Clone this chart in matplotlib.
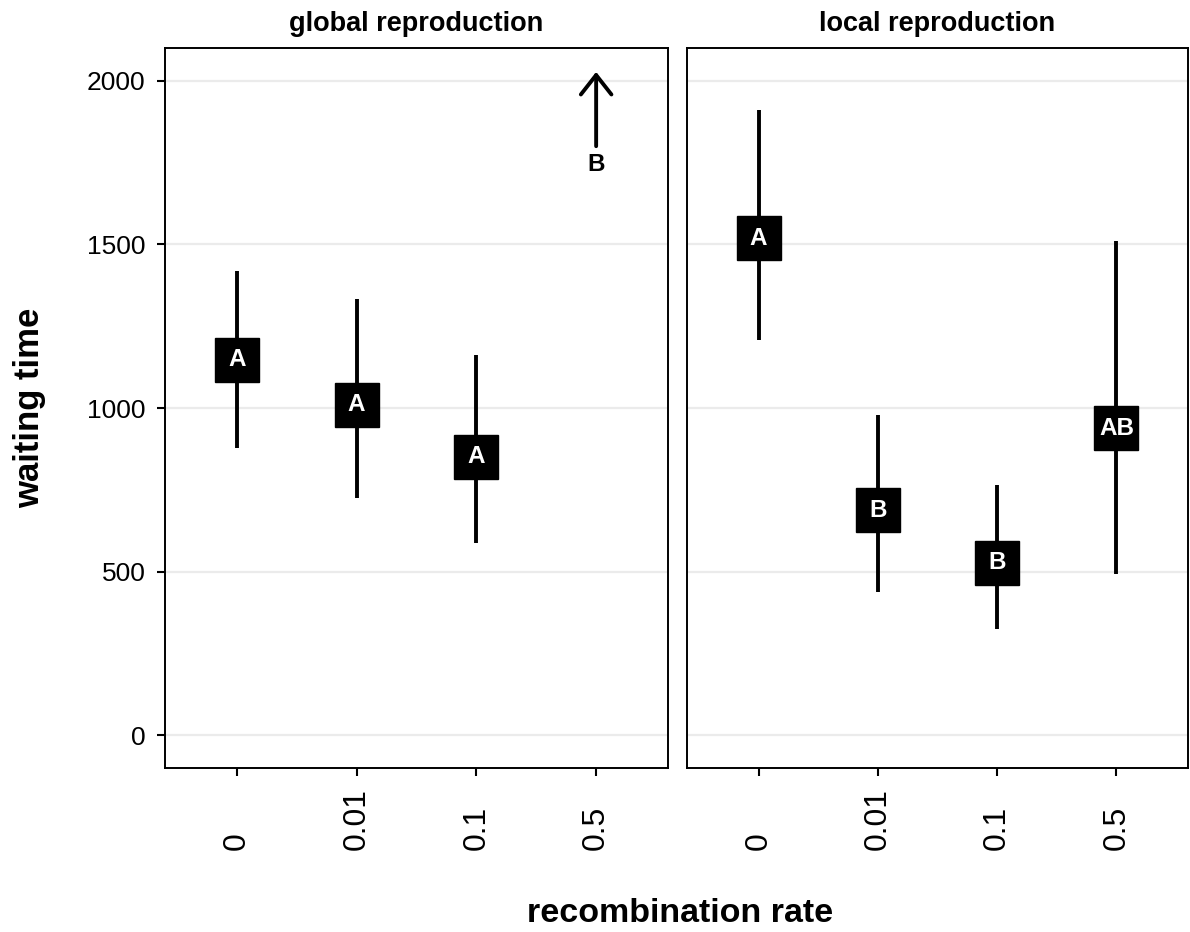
import numpy as np
import matplotlib
matplotlib.use("Agg")
import matplotlib.pyplot as plt

plt.rcParams['font.family'] = ['Liberation Sans', 'DejaVu Sans']

# ---- data ----
categories = ['0', '0.01', '0.1', '0.5']
panels = ['global reproduction', 'local reproduction']

global_mean = [1147, 1010, 851, np.nan]
global_low = [877, 724, 588, np.nan]
global_high = [1419, 1332, 1162, np.nan]
global_letters = ['A', 'A', 'A', 'B']
# off-scale value for global / 0.5 shown as an arrow
global_arrow_from = 1800
global_arrow_to = 2027
global_arrow_label_y = 1745

local_mean = [1519, 688, 527, 938]
local_low = [1208, 439, 325, 493]
local_high = [1910, 978, 765, 1510]
local_letters = ['A', 'B', 'B', 'AB']

yticks = [0, 500, 1000, 1500, 2000]

W, H = 1190, 932
fig = plt.figure(figsize=(W / 100, H / 100), dpi=100)

def frac_rect(x0, x1, ytop, ybot):
    return [x0 / W, 1 - ybot / H, (x1 - x0) / W, (ybot - ytop) / H]

ax1 = fig.add_axes(frac_rect(165, 668, 48, 768))
ax2 = fig.add_axes(frac_rect(687, 1188, 48, 768))

xpos = np.arange(1, len(categories) + 1)

def style(ax, show_y):
    ax.set_xlim(0.4, 4.6)
    ax.set_ylim(-100, 2100)
    ax.set_yticks(yticks)
    ax.yaxis.grid(True, color='#EBEBEB', lw=1.6)
    ax.xaxis.grid(False)
    ax.set_axisbelow(True)
    for sp in ax.spines.values():
        sp.set_color('black')
        sp.set_linewidth(1.4)
    ax.set_xticks(xpos)
    ax.set_xticklabels(categories, rotation=90, fontsize=23)
    ax.tick_params(axis='x', length=6, width=1.5, pad=53, colors='black')
    for lab in ax.get_xticklabels():
        lab.set_va('bottom')
        lab.set_ha('center')
    if show_y:
        ax.set_yticklabels([str(v) for v in yticks], fontsize=19)
        ax.tick_params(axis='y', length=6, width=1.5, pad=8, colors='black')
    else:
        ax.tick_params(axis='y', length=0, labelleft=False)

def draw(ax, mean, low, high, letters):
    m = np.array(mean, dtype=float)
    ok = ~np.isnan(m)
    ax.vlines(xpos[ok], np.array(low, dtype=float)[ok], np.array(high, dtype=float)[ok],
              color='black', lw=2.8, zorder=2)
    ax.plot(xpos[ok], m[ok], 's', ms=31, color='black', zorder=3)
    for x, y, t, k in zip(xpos, m, letters, ok):
        if k:
            ax.text(x, y, t, color='white', fontsize=17.5, fontweight='bold',
                    ha='center', va='center', zorder=4)

style(ax1, True)
style(ax2, False)

draw(ax1, global_mean, global_low, global_high, global_letters)
draw(ax2, local_mean, local_low, local_high, local_letters)

# arrow for the off-scale group
ax1.annotate('', xy=(xpos[3], global_arrow_to), xytext=(xpos[3], global_arrow_from),
             arrowprops=dict(arrowstyle='->,head_length=0.7,head_width=0.55',
                             lw=2.8, color='black', shrinkA=0, shrinkB=0,
                             mutation_scale=20),
             )
ax1.text(xpos[3], global_arrow_label_y, global_letters[3], color='black', fontsize=17.5,
         fontweight='bold', ha='center', va='center')

ax1.set_title(panels[0], fontsize=19.5, fontweight='bold', pad=12)
ax2.set_title(panels[1], fontsize=19.5, fontweight='bold', pad=12)

fig.text(30 / W, 1 - 408 / H, 'waiting time', rotation=90, fontsize=25,
         fontweight='bold', ha='center', va='center')
fig.text(680 / W, 1 - 922 / H, 'recombination rate', fontsize=24.5,
         fontweight='bold', ha='center', va='baseline')

fig.savefig('out.png', dpi=100, facecolor='white')
